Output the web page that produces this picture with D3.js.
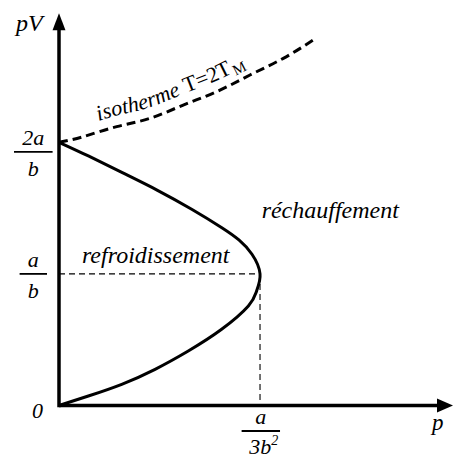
<!DOCTYPE html>
<html><head><meta charset="utf-8">
<script src="https://cdn.jsdelivr.net/npm/d3@7"></script>
<style>
html,body{margin:0;padding:0;background:#fff;}
svg{display:block;}
text{font-family:"Liberation Serif","Times New Roman",Tinos,serif;fill:#000;}
</style></head><body>
<svg id="chart" width="454" height="458"></svg>
<script>
// Inversion curve: p in units of a/(3b²), pV in units of a/b
const inversionP  = [0, 0.146, 0.315, 0.49, 0.66, 0.81, 0.895, 0.96, 1.0, 0.983, 0.942, 0.809, 0.643, 0.478, 0.312, 0.146, 0];
const inversionPV = [2.0, 1.896, 1.769, 1.635, 1.491, 1.351, 1.258, 1.149, 1.0, 0.870, 0.756, 0.579, 0.414, 0.275, 0.161, 0.072, 0];
// Isotherm T = 2 T_M
const isothermP  = [0, 0.121, 0.287, 0.453, 0.618, 0.785, 0.950, 1.116, 1.265];
const isothermPV = [2.0, 2.043, 2.119, 2.182, 2.283, 2.385, 2.511, 2.638, 2.777];
// Axis tick labels (written as fractions)
const yTickValues = [0, 1, 2];
const yTickNum = ["0", "a", "2a"];
const yTickDen = [null, "b", "b"];
const xTickValues = [1];
const xTickNum = ["a"];
const xTickDen = ["3b"];
const xTickDenExp = ["2"];
const axisTitles = ["p", "pV"];
const regionLabels = ["refroidissement", "réchauffement"];

const svg = d3.select("#chart");
const x = d3.scaleLinear().domain([0, 1.96]).range([59, 453]);
const y = d3.scaleLinear().domain([0, 2.98]).range([405.5, 13.3]);

const inversion = inversionP.map((p, i) => [p, inversionPV[i]]);
const isotherm = isothermP.map((p, i) => [p, isothermPV[i]]);

const line = d3.line().x(d => x(d[0])).y(d => y(d[1])).curve(d3.curveNatural);

// guide lines to the vertex of the inversion curve
const vx = d3.max(inversionP);
const vy = inversionPV[inversionP.indexOf(vx)];
svg.append("line").attr("x1", x(0)).attr("x2", x(vx)).attr("y1", y(vy)).attr("y2", y(vy))
  .attr("stroke", "#000").attr("stroke-width", 1.1).attr("stroke-dasharray", "6,4");
svg.append("line").attr("x1", x(vx)).attr("x2", x(vx)).attr("y1", y(vy)).attr("y2", y(0))
  .attr("stroke", "#000").attr("stroke-width", 1.1).attr("stroke-dasharray", "6,4");

// isotherm (dashed)
svg.append("path").attr("d", line(isotherm)).attr("fill", "none")
  .attr("stroke", "#000").attr("stroke-width", 3).attr("stroke-dasharray", "9,5");

// inversion curve
svg.append("path").attr("d", line(inversion)).attr("fill", "none")
  .attr("stroke", "#000").attr("stroke-width", 3);

// axes with arrowheads
const x0 = x(0), y0 = y(0);
const xEnd = x.range()[1], yEnd = y.range()[1];
svg.append("line").attr("x1", x0).attr("x2", xEnd - 14).attr("y1", y0).attr("y2", y0)
  .attr("stroke", "#000").attr("stroke-width", 3.5);
svg.append("line").attr("x1", x0).attr("x2", x0).attr("y1", y0 + 1.75).attr("y2", yEnd + 14)
  .attr("stroke", "#000").attr("stroke-width", 3.5);
svg.append("path").attr("d", `M${xEnd},${y0}L${xEnd - 16},${y0 - 7}L${xEnd - 16},${y0 + 7}Z`).attr("fill", "#000");
svg.append("path").attr("d", `M${x0},${yEnd}L${x0 - 6.5},${yEnd + 17}L${x0 + 6.5},${yEnd + 17}Z`).attr("fill", "#000");

// fraction-style tick labels
function fraction(cx, barY, num, den, half, exp) {
  const g = svg.append("g");
  g.append("text").attr("x", cx).attr("y", barY - 6.8).attr("text-anchor", "middle")
    .attr("font-size", 22).attr("font-style", "italic").text(num);
  g.append("line").attr("x1", cx - half).attr("x2", cx + half).attr("y1", barY).attr("y2", barY)
    .attr("stroke", "#000").attr("stroke-width", 1.8);
  const t = g.append("text").attr("x", cx + (exp ? 3 : 0)).attr("y", barY + (exp ? 22.5 : 24.5)).attr("text-anchor", "middle")
    .attr("font-size", 22).attr("font-style", "italic");
  t.append("tspan").text(den);
  if (exp) t.append("tspan").attr("font-size", 14).attr("dy", -9).text(exp);
}

yTickValues.forEach((v, i) => {
  if (yTickDen[i] === null) {
    svg.append("text").attr("x", 37.5).attr("y", y(v) + 12.5).attr("text-anchor", "middle")
      .attr("font-size", 22).attr("font-style", "italic").text(yTickNum[i]);
  } else {
    const half = yTickNum[i].length > 1 ? 19.3 : 13.7;
    const shift = v === d3.max(yTickValues) ? 9.5 : 0;
    fraction(33.3, y(v) + shift, yTickNum[i], yTickDen[i], half, null);
  }
});
xTickValues.forEach((v, i) => {
  fraction(x(v) + 0.8, y0 + 25.5, xTickNum[i], xTickDen[i], 19.2, xTickDenExp[i]);
});

// axis titles
svg.append("text").attr("x", 432).attr("y", 430).attr("font-size", 23).attr("font-style", "italic").text(axisTitles[0]);
svg.append("text").attr("x", 16).attr("y", 31).attr("font-size", 24).attr("font-style", "italic").text(axisTitles[1]);

// region labels
svg.append("text").attr("x", x(0.114)).attr("y", y(1.083)).attr("font-size", 24).attr("font-style", "italic").text(regionLabels[0]);
svg.append("text").attr("x", x(1.008)).attr("y", y(1.425)).attr("font-size", 24).attr("font-style", "italic").text(regionLabels[1]);

// isotherm label following the curve
const labelLine = d3.line().x(d => x(d[0])).y(d => y(d[1]) - 11).curve(d3.curveNatural);
svg.append("defs").append("path").attr("id", "isoLabelPath").attr("d", labelLine(isotherm));
const lt = svg.append("text").attr("font-size", 22);
const tp = lt.append("textPath").attr("href", "#isoLabelPath").attr("startOffset", 41);
tp.append("tspan").attr("font-style", "italic").text("isotherme ");
tp.append("tspan").text("T=2T");
tp.append("tspan").attr("font-size", 15).attr("dy", 4).attr("dx", 1.5).text("M");
</script>
</body></html>
